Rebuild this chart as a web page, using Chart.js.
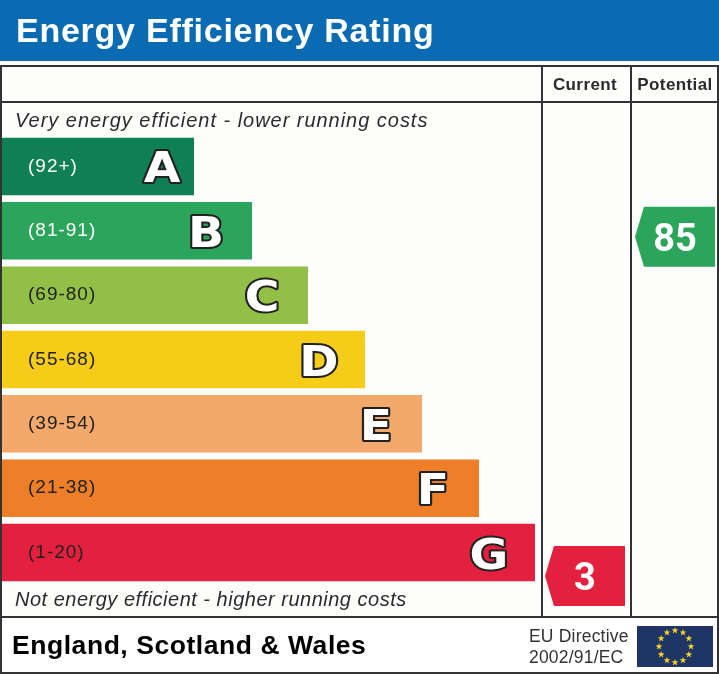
<!DOCTYPE html>
<html>
<head>
<meta charset="utf-8">
<title>Energy Efficiency Rating</title>
<script src="https://cdn.jsdelivr.net/npm/chart.js@4/dist/chart.umd.min.js"></script>
<style>
  html, body { margin: 0; padding: 0; background: #fff; }
  canvas { display: block; }
</style>
</head>
<body>
<canvas id="epc" width="719" height="675"></canvas>
<script>
// chart values
const bandRanges = ["(92+)", "(81-91)", "(69-80)", "(55-68)", "(39-54)", "(21-38)", "(1-20)"];
const bandLetters = ["A", "B", "C", "D", "E", "F", "G"];
const barLengths = [192, 250, 306, 363, 420, 477, 533];
const bandColors = ["#0f8055", "#2ca55c", "#92bf45", "#f5cd18", "#f3a96b", "#ee7f28", "#e3213e"];
const labelColors = ["#fff", "#fff", "#222", "#222", "#222", "#222", "#222"];
const currentRating = [3];
const potentialRating = [85];

// draws everything which is not a mark: header, frame, captions, flag
const framePlugin = {
  id: "frame",
  beforeDraw(chart) {
    const c = chart.ctx;
    c.save();
    c.fillStyle = "#fdfdfb";
    c.fillRect(0, 0, 719, 675);
    c.fillStyle = "#0a6bb3";
    c.fillRect(0, 0, 719, 61);
    c.fillStyle = "#fff";
    c.fillRect(0, 617, 719, 58);

    c.strokeStyle = "#333";
    c.lineWidth = 2;
    c.strokeRect(1, 66, 717, 607);
    line(c, 2, 102, 717, 102);
    line(c, 542, 66, 542, 617);
    line(c, 631, 66, 631, 617);
    line(c, 2, 617, 717, 617);

    c.textBaseline = "alphabetic";
    c.textAlign = "left";
    c.letterSpacing = "0.75px";
    c.fillStyle = "#fff";
    c.font = "bold 34px 'Liberation Sans'";
    c.fillText("Energy Efficiency Rating", 16, 42);

    c.fillStyle = "#2b2b2b";
    c.font = "italic 20px 'Liberation Sans'";
    c.letterSpacing = "0.97px";
    c.fillText("Very energy efficient - lower running costs", 15, 127);
    c.letterSpacing = "0.5px";
    c.fillText("Not energy efficient - higher running costs", 15, 606);

    c.letterSpacing = "0.4px";
    c.font = "bold 17px 'Liberation Sans'";
    c.textAlign = "center";
    c.fillStyle = "#2b2b2b";
    c.fillText("Current", 585, 90);
    c.fillText("Potential", 675, 90);

    c.textAlign = "left";
    c.letterSpacing = "0.55px";
    c.fillStyle = "#000";
    c.font = "bold 26.5px 'Liberation Sans'";
    c.fillText("England, Scotland & Wales", 12, 654);

    c.letterSpacing = "0.2px";
    c.fillStyle = "#333";
    c.font = "17.5px 'Liberation Sans'";
    c.fillText("EU Directive", 529, 642);
    c.fillText("2002/91/EC", 529, 663);

    c.fillStyle = "#1f3566";
    c.fillRect(637, 626, 76, 41);
    c.fillStyle = "#f5d327";
    for (let i = 0; i < 12; i++) {
      const a = i * Math.PI / 6;
      star(c, 675 + 16 * Math.sin(a), 646.5 - 16 * Math.cos(a), 3.6);
    }
    c.restore();
  },
  afterDatasetsDraw(chart) {
    const c = chart.ctx;
    c.save();
    // big outlined letters at the end of each bar
    const bars = chart.getDatasetMeta(0).data;
    c.textAlign = "center";
    c.textBaseline = "alphabetic";
    c.font = "bold 43px 'DejaVu Sans'";
    c.lineJoin = "round";
    bars.forEach((bar, i) => {
      const x = bar.x - (i === 0 ? 32 : 46);
      const y = bar.y + 16;
      c.save();
      c.translate(x, y);
      c.scale(1.1, 1);
      c.lineWidth = 4;
      c.strokeStyle = "#222";
      c.strokeText(bandLetters[i], 0, 0);
      c.fillStyle = "#fff";
      c.fillText(bandLetters[i], 0, 0);
      c.restore();
    });
    // rating arrows
    [1, 2].forEach(d => {
      const p = chart.getDatasetMeta(d).data[0];
      const ds = chart.data.datasets[d];
      c.fillStyle = ds.backgroundColor;
      c.beginPath();
      c.moveTo(p.x - 40, p.y);
      c.lineTo(p.x - 31, p.y - 30);
      c.lineTo(p.x + 40, p.y - 30);
      c.lineTo(p.x + 40, p.y + 30);
      c.lineTo(p.x - 31, p.y + 30);
      c.closePath();
      c.fill();
      c.fillStyle = "#fff";
      c.font = "bold 38px Roboto";
      c.fillText(String(ds.data[0].y), p.x, p.y + 14);
    });
    c.restore();
    // tick labels are drawn after this hook and pick this up
    c.letterSpacing = "1px";
  }
};

function line(c, x1, y1, x2, y2) {
  c.beginPath();
  c.moveTo(x1, y1);
  c.lineTo(x2, y2);
  c.stroke();
}

function star(c, x, y, r) {
  c.beginPath();
  for (let i = 0; i < 10; i++) {
    const a = i * Math.PI / 5;
    const rr = i % 2 ? r * 0.4 : r;
    c.lineTo(x + rr * Math.sin(a), y - rr * Math.cos(a));
  }
  c.closePath();
  c.fill();
}

new Chart(document.getElementById("epc"), {
  type: "bar",
  plugins: [framePlugin],
  data: {
    labels: bandRanges,
    datasets: [
      {
        type: "bar",
        indexAxis: "y",
        xAxisID: "x",
        yAxisID: "y",
        data: barLengths,
        backgroundColor: bandColors,
        barPercentage: 0.894,
        categoryPercentage: 1
      },
      {
        type: "scatter",
        label: "Current",
        xAxisID: "x",
        yAxisID: "score",
        data: [{ x: 583, y: currentRating[0] }],
        backgroundColor: "#e3213e",
        pointRadius: 0
      },
      {
        type: "scatter",
        label: "Potential",
        xAxisID: "x",
        yAxisID: "score",
        data: [{ x: 673, y: potentialRating[0] }],
        backgroundColor: "#2ca55c",
        pointRadius: 0
      }
    ]
  },
  options: {
    responsive: false,
    animation: false,
    devicePixelRatio: 1,
    layout: { padding: { left: 2, right: 0, top: 134.3, bottom: 90.3 } },
    plugins: { legend: { display: false }, tooltip: { enabled: false } },
    scales: {
      x: { type: "linear", axis: "x", min: 0, max: 717, offset: false, display: false },
      y: {
        type: "category",
        axis: "y",
        position: "left",
        offset: true,
        grid: { display: false, offset: true },
        border: { display: false },
        afterFit(scale) { scale.width = 0; },
        ticks: {
          z: 1,
          mirror: true,
          padding: 26,
          color: labelColors,
          font: { family: "'Liberation Sans'", size: 19 }
        }
      },
      score: { type: "linear", axis: "y", min: 0.9, max: 109.8, offset: false, display: false }
    }
  }
});
</script>
</body>
</html>
